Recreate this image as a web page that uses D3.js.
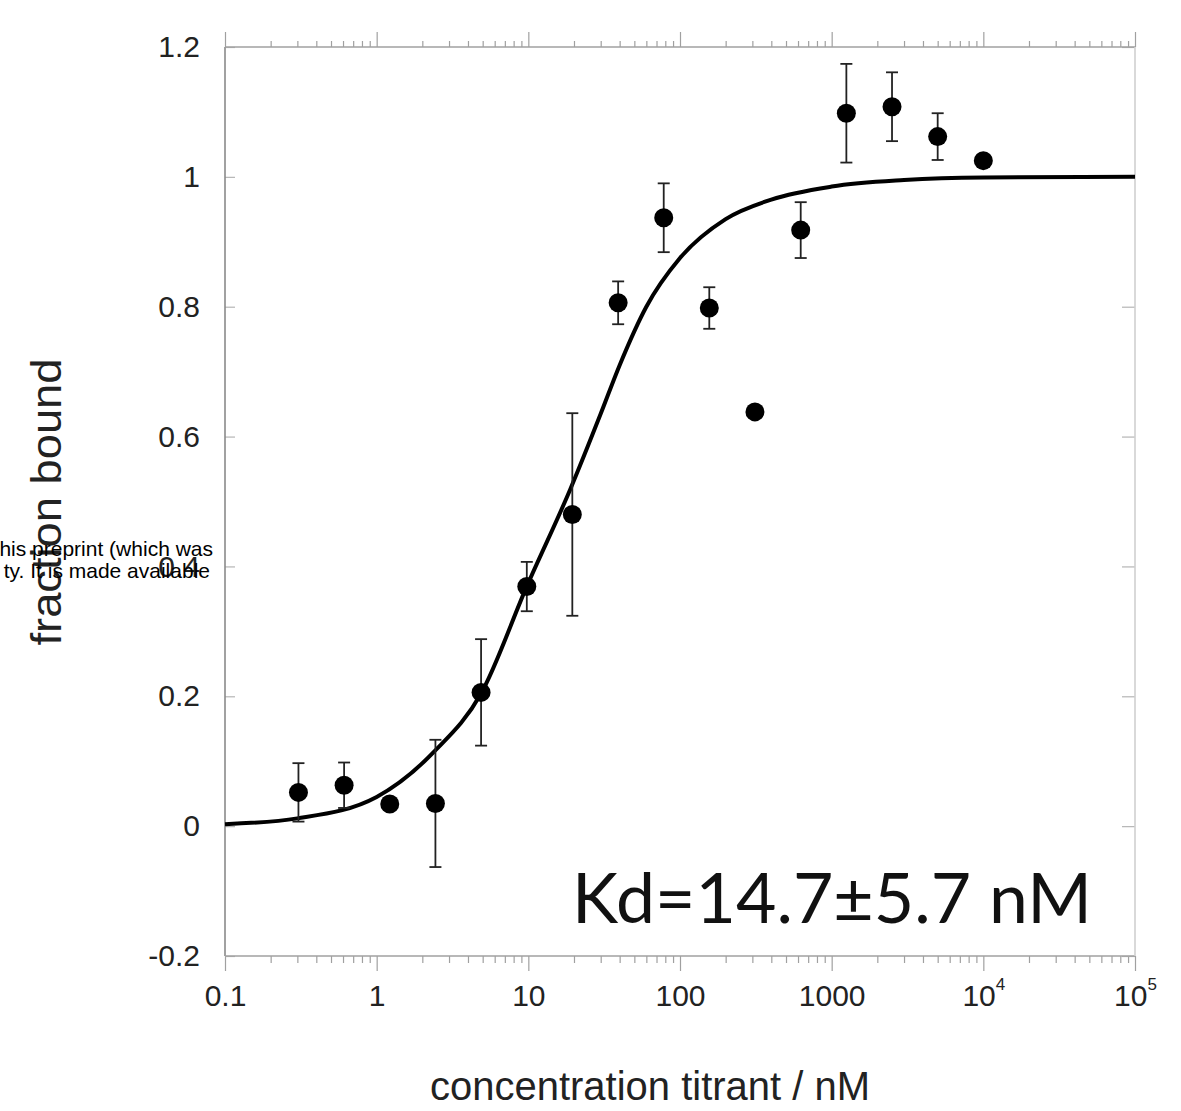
<!DOCTYPE html>
<html>
<head>
<meta charset="utf-8">
<script src="https://cdn.jsdelivr.net/npm/d3@7"></script>
<style>
  html, body { margin: 0; padding: 0; background: #fff; }
  svg { display: block; }
</style>
</head>
<body>
<svg id="chart" width="1181" height="1111"></svg>
<script>
// ---- data ----
const concentrations = [0.305, 0.61, 1.22, 2.44, 4.88, 9.77, 19.5, 39.1, 78.1, 156, 312, 625, 1250, 2500, 5000, 10000];
const fractionBound  = [0.052, 0.063, 0.034, 0.035, 0.206, 0.369, 0.480, 0.806, 0.937, 0.798, 0.638, 0.918, 1.098, 1.108, 1.062, 1.025];
const errors         = [0.045, 0.035, 0, 0.098, 0.082, 0.038, 0.156, 0.033, 0.053, 0.032, 0, 0.043, 0.076, 0.053, 0.036, 0];
const fitConc = [0.1, 0.3, 1, 2.4, 4.9, 9.8, 19, 30, 40, 60, 100, 200, 400, 1000, 3000, 10000, 100000];
const fitY    = [0.003, 0.012, 0.045, 0.115, 0.205, 0.37, 0.52, 0.635, 0.71, 0.80, 0.875, 0.935, 0.965, 0.985, 0.995, 0.999, 1.0];
const xMajorTicks = [0.1, 1, 10, 100, 1000, 10000, 100000];
const xTickLabels = ["0.1", "1", "10", "100", "1000", "10|4", "10|5"];
const yTicks = [-0.2, 0, 0.2, 0.4, 0.6, 0.8, 1, 1.2];
const yTickLabels = ["-0.2", "0", "0.2", "0.4", "0.6", "0.8", "1", "1.2"];

(function () {
const svg = d3.select("#chart");
const pLeft = 225, pRight = 1135, pTop = 47, pBottom = 956;
const x = d3.scaleLog().domain([0.1, 1e5]).range([pLeft, pRight]);
const y = d3.scaleLinear().domain([-0.2, 1.2]).range([pBottom, pTop]);

const minorTicks = [];
for (let e = -1; e < 5; e++) for (let m = 2; m <= 9; m++) minorTicks.push(m * Math.pow(10, e));

const font = "'Liberation Sans', Arial, sans-serif";

function styleAxis(g, color) {
  g.select(".domain").remove();
  g.selectAll(".tick line").attr("stroke", color).attr("stroke-width", 1.2);
}

// bottom axis: minor + major ticks
svg.append("g").attr("transform", `translate(0,${pBottom})`)
  .call(d3.axisBottom(x).tickValues(minorTicks).tickSize(7).tickFormat(""))
  .call(g => styleAxis(g, "#a0a0a0"));
const bAxis = svg.append("g").attr("transform", `translate(0,${pBottom})`)
  .call(d3.axisBottom(x).tickValues(xMajorTicks).tickSize(15).tickPadding(14)
        .tickFormat((d, i) => xTickLabels[i]))
  .call(g => styleAxis(g, "#a0a0a0"));
bAxis.selectAll(".tick text")
  .attr("font-family", font).attr("font-size", 30).attr("fill", "#222")
  .each(function() {
    const t = d3.select(this);
    const parts = t.text().split("|");
    if (parts.length === 2) {
      t.text("");
      t.append("tspan").text(parts[0]);
      t.append("tspan").text(parts[1]).attr("font-size", 17).attr("dy", "-0.95em");
    }
  });

// top axis
svg.append("g").attr("transform", `translate(0,${pTop})`)
  .call(d3.axisTop(x).tickValues(minorTicks).tickSize(6).tickFormat(""))
  .call(g => styleAxis(g, "#a0a0a0"));
svg.append("g").attr("transform", `translate(0,${pTop})`)
  .call(d3.axisTop(x).tickValues(xMajorTicks).tickSize(15).tickFormat(""))
  .call(g => styleAxis(g, "#a0a0a0"));

// left axis
const lAxis = svg.append("g").attr("transform", `translate(${pLeft},0)`)
  .call(d3.axisLeft(y).tickValues(yTicks).tickSizeInner(-10).tickSizeOuter(0).tickPadding(25)
        .tickFormat((d, i) => yTickLabels[i]))
  .call(g => styleAxis(g, "#b5b5b5"));
lAxis.selectAll(".tick text")
  .attr("font-family", font).attr("font-size", 30).attr("fill", "#222");

// right axis
svg.append("g").attr("transform", `translate(${pRight},0)`)
  .call(d3.axisRight(y).tickValues(yTicks).tickSizeInner(-13).tickSizeOuter(0).tickFormat(""))
  .call(g => styleAxis(g, "#b5b5b5"));

// frame lines
svg.append("line").attr("x1", pLeft).attr("x2", pLeft).attr("y1", pTop).attr("y2", pBottom)
  .attr("stroke", "#8a8a8a").attr("stroke-width", 1.6);
svg.append("line").attr("x1", pLeft).attr("x2", pRight).attr("y1", pBottom).attr("y2", pBottom)
  .attr("stroke", "#a0a0a0").attr("stroke-width", 1.6);
svg.append("line").attr("x1", pLeft).attr("x2", pRight).attr("y1", pTop).attr("y2", pTop)
  .attr("stroke", "#a0a0a0").attr("stroke-width", 1.6);
svg.append("line").attr("x1", pRight).attr("x2", pRight).attr("y1", pTop).attr("y2", pBottom)
  .attr("stroke", "#d0d0d0").attr("stroke-width", 1.6);

// fit curve
const fitData = fitConc.map((c, i) => [c, fitY[i]]);
const line = d3.line().x(d => x(d[0])).y(d => y(d[1])).curve(d3.curveMonotoneX);
svg.append("path").datum(fitData).attr("d", line)
  .attr("fill", "none").attr("stroke", "#000").attr("stroke-width", 4);

// error bars
const pts = concentrations.map((c, i) => ({ c, v: fractionBound[i], e: errors[i] }));
const eb = svg.append("g").attr("stroke", "#222").attr("stroke-width", 1.8);
pts.filter(d => d.e > 0).forEach(d => {
  const cx = x(d.c);
  eb.append("line").attr("x1", cx).attr("x2", cx).attr("y1", y(d.v - d.e)).attr("y2", y(d.v + d.e));
  eb.append("line").attr("x1", cx - 6).attr("x2", cx + 6).attr("y1", y(d.v - d.e)).attr("y2", y(d.v - d.e));
  eb.append("line").attr("x1", cx - 6).attr("x2", cx + 6).attr("y1", y(d.v + d.e)).attr("y2", y(d.v + d.e));
});

// points
svg.append("g").selectAll("circle").data(pts).join("circle")
  .attr("cx", d => x(d.c)).attr("cy", d => y(d.v)).attr("r", 9.5).attr("fill", "#000");

// annotation
svg.append("text").attr("x", 572).attr("y", 923)
  .attr("font-family", "Lato, 'Open Sans', sans-serif").attr("font-size", 70).attr("fill", "#111")
  .attr("textLength", 520).attr("lengthAdjust", "spacingAndGlyphs")
  .text("Kd=14.7±5.7 nM");

// axis titles
svg.append("text").attr("x", 650).attr("y", 1100)
  .attr("text-anchor", "middle").attr("font-family", font).attr("font-size", 40).attr("fill", "#222")
  .attr("textLength", 440).attr("lengthAdjust", "spacingAndGlyphs")
  .text("concentration titrant / nM");
svg.append("text").attr("transform", "translate(61,502) rotate(-90)")
  .attr("text-anchor", "middle").attr("font-family", font).attr("font-size", 42).attr("fill", "#222")
  .attr("textLength", 287).attr("lengthAdjust", "spacingAndGlyphs")
  .text("fraction bound");

// overlapping preprint text fragment (partly cut off at the left edge in the source)
svg.append("text").attr("x", 213).attr("y", 556).attr("text-anchor", "end")
  .attr("font-family", font).attr("font-size", 21).attr("fill", "#000").text("his preprint (which was");
svg.append("text").attr("x", 210).attr("y", 578).attr("text-anchor", "end")
  .attr("font-family", font).attr("font-size", 21).attr("fill", "#000").text("ty. It is made available");
})();
</script>
</body>
</html>
